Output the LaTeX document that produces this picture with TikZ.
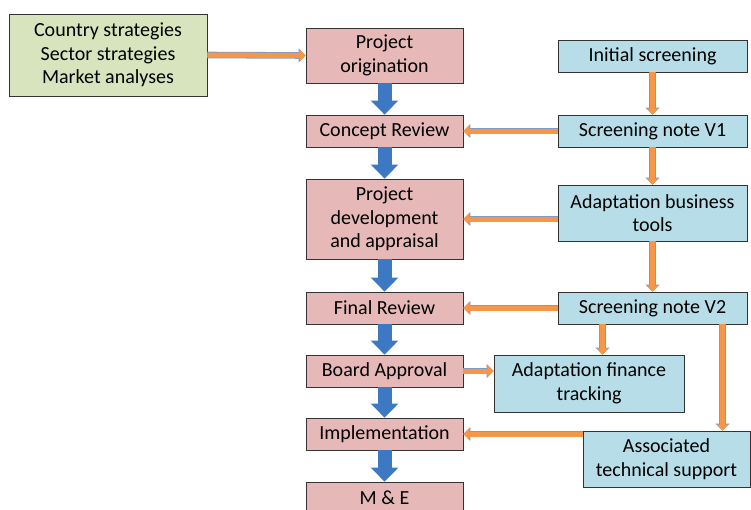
\documentclass[tikz,border=0pt]{standalone}
\usepackage{fontspec}
\setmainfont{Carlito}
\usetikzlibrary{arrows.meta}

\definecolor{pinkbox}{HTML}{E6B9B8}
\definecolor{bluebox}{HTML}{B7DEE8}
\definecolor{greenbox}{HTML}{D7E4BD}
\definecolor{orangearr}{HTML}{F79646}
\definecolor{orangeedge}{HTML}{7F9CC8}
\definecolor{bluearr}{HTML}{3D78C2}

\begin{document}
\begin{tikzpicture}[
        x=1pt, y=-1pt,
        font=\fontsize{20}{23.5}\selectfont,
        box/.style={draw=black!80, line width=0.9pt, inner sep=0pt, align=center},
        stage/.style={box, fill=pinkbox, minimum width=157pt},
        tool/.style={box, fill=bluebox},
        source/.style={box, fill=greenbox},
        flow/.style={draw=bluearr, line width=14pt, -{Triangle[width=27pt,length=14pt]}},
        feed/.style={draw=orangearr, line width=5pt, -{Triangle[width=12pt,length=6pt]},
            preaction={draw=orangeedge, line width=6.6pt, -{Triangle[width=14pt,length=7pt]}}},
    ]
    \useasboundingbox (0,0) rectangle (751,509);

    %Draw the project cycle stages
    \node [stage, minimum height=55pt] (po) at (384.5,55.5) {Project\\origination};
    \node [stage, minimum height=32pt] (cr) at (384.5,131) {Concept Review};
    \node [stage, minimum height=80pt] (pd) at (384.5,219) {Project\\development\\and appraisal};
    \node [stage, minimum height=32pt] (fr) at (384.5,308) {Final Review};
    \node [stage, minimum height=32pt] (ba) at (384.5,371) {Board Approval};
    \node [stage, minimum height=32pt] (impl) at (384.5,434) {Implementation};
    \node [stage, minimum height=32pt] (me) at (384.5,498) {M \& E};

    %Draw the inputs
    \node [source, minimum width=198pt, minimum height=82pt] (strat) at (108,55)
        {Country strategies\\Sector strategies\\Market analyses};

    %Draw the adaptation tools
    \node [tool, minimum width=189pt, minimum height=32pt] (init) at (652.5,56) {Initial screening};
    \node [tool, minimum width=189pt, minimum height=32pt] (sn1) at (652.5,131) {Screening note V1};
    \node [tool, minimum width=189pt, minimum height=56pt] (abt) at (652.5,213) {Adaptation business\\tools};
    \node [tool, minimum width=189pt, minimum height=32pt] (sn2) at (652.5,308) {Screening note V2};
    \node [tool, minimum width=190pt, minimum height=57pt] (aft) at (589,383.5) {Adaptation finance\\tracking};
    \node [tool, minimum width=167pt, minimum height=56pt] (ats) at (666.5,459) {Associated\\technical support};

    %Draw the blue arrows down the cycle
    \draw [flow] (po.south) -- (cr.north);
    \draw [flow] (cr.south) -- (pd.north);
    \draw [flow] (pd.south) -- (fr.north);
    \draw [flow] (fr.south) -- (ba.north);
    \draw [flow] (ba.south) -- (impl.north);
    \draw [flow] (impl.south) -- (me.north);

    %Draw the orange arrows
    \draw [feed] (strat.east) -- (po.west);
    \draw [feed] (init.south) -- (sn1.north);
    \draw [feed] (sn1.west) -- (cr.east);
    \draw [feed] (sn1.south) -- (abt.north);
    \draw [feed] (pd.east -| abt.west) -- (pd.east);
    \draw [feed] (abt.south) -- (sn2.north);
    \draw [feed] (sn2.west) -- (fr.east);
    \draw [feed] ([xshift=-50pt]sn2.south) -- ([xshift=-50pt]sn2.south |- aft.north);
    \draw [feed] ([xshift=70pt]sn2.south) -- ([xshift=70pt]sn2.south |- ats.north);
    \draw [feed] (ba.east) -- (ba.east -| aft.west);
    \draw [feed] (impl.east -| ats.west) -- (impl.east);
\end{tikzpicture}
\end{document}
